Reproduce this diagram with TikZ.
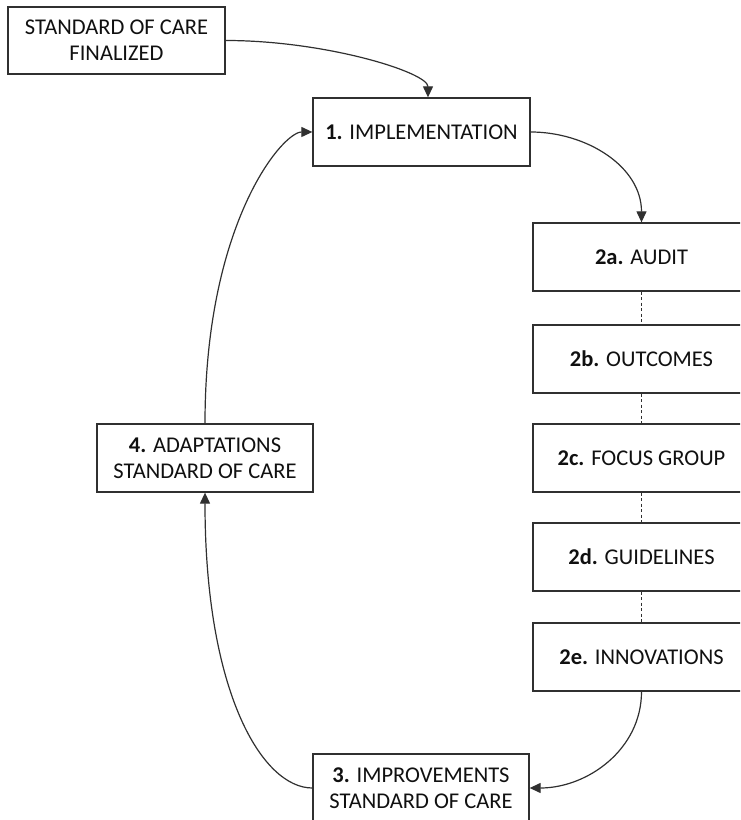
\documentclass[tikz,border=0pt]{standalone}
\usepackage{fontspec}
\setmainfont{Carlito}
\usetikzlibrary{arrows.meta}
\definecolor{ink}{HTML}{303030}
\definecolor{txt}{HTML}{101010}
\begin{document}
\begin{tikzpicture}[x=1pt,y=1pt,
  box/.style={draw=ink, line width=1.3pt, fill=white, minimum width=217pt, minimum height=68pt,
    align=center, inner sep=0pt, text=txt, font=\fontsize{22.5}{26}\selectfont},
  conn/.style={draw=ink, line width=1.2pt, -{Triangle[length=11pt,width=10pt]}},
  dashlink/.style={draw=ink, line width=1pt, dash pattern=on 3pt off 2.5pt}]
\useasboundingbox (0,0) rectangle (740,820);
\begin{scope}
\clip (0,0) rectangle (740,820);
\node[box, minimum height=67pt] (fin) at (116.5,779.5) {STANDARD OF CARE\\FINALIZED};
\node[box] (impl) at (421.5,688) {\textbf{1.} IMPLEMENTATION};
\node[box] (a) at (641.5,563) {\textbf{2a.} AUDIT};
\node[box] (b) at (641.5,461) {\textbf{2b.} OUTCOMES};
\node[box] (c) at (641.5,362) {\textbf{2c.} FOCUS GROUP};
\node[box] (d) at (641.5,263) {\textbf{2d.} GUIDELINES};
\node[box] (e) at (641.5,163) {\textbf{2e.} INNOVATIONS};
\node[box, minimum width=216pt] (adapt) at (205,362) {\textbf{4.} ADAPTATIONS\\STANDARD OF CARE};
\node[box, minimum width=216pt] (impr) at (421,32) {\textbf{3.} IMPROVEMENTS\\STANDARD OF CARE};
\coordinate (implin) at ([xshift=6.5pt]impl.north);
\draw[conn] (fin.east) .. controls +(100,0) and +(0,25) .. (implin);
\draw[conn] (impl.east) to[out=0,in=90] (a.north);
\draw[conn] (e.south) to[out=-90,in=0] (impr.east);
\draw[conn] (impr.west) .. controls +(-50,0) and +(0,-200) .. (adapt.south);
\draw[conn] (adapt.north) .. controls +(0,200) and +(-30,0) .. (impl.west);
\draw[dashlink] (a.south) -- (b.north);
\draw[dashlink] (b.south) -- (c.north);
\draw[dashlink] (c.south) -- (d.north);
\draw[dashlink] (d.south) -- (e.north);
\end{scope}
\end{tikzpicture}
\end{document}
